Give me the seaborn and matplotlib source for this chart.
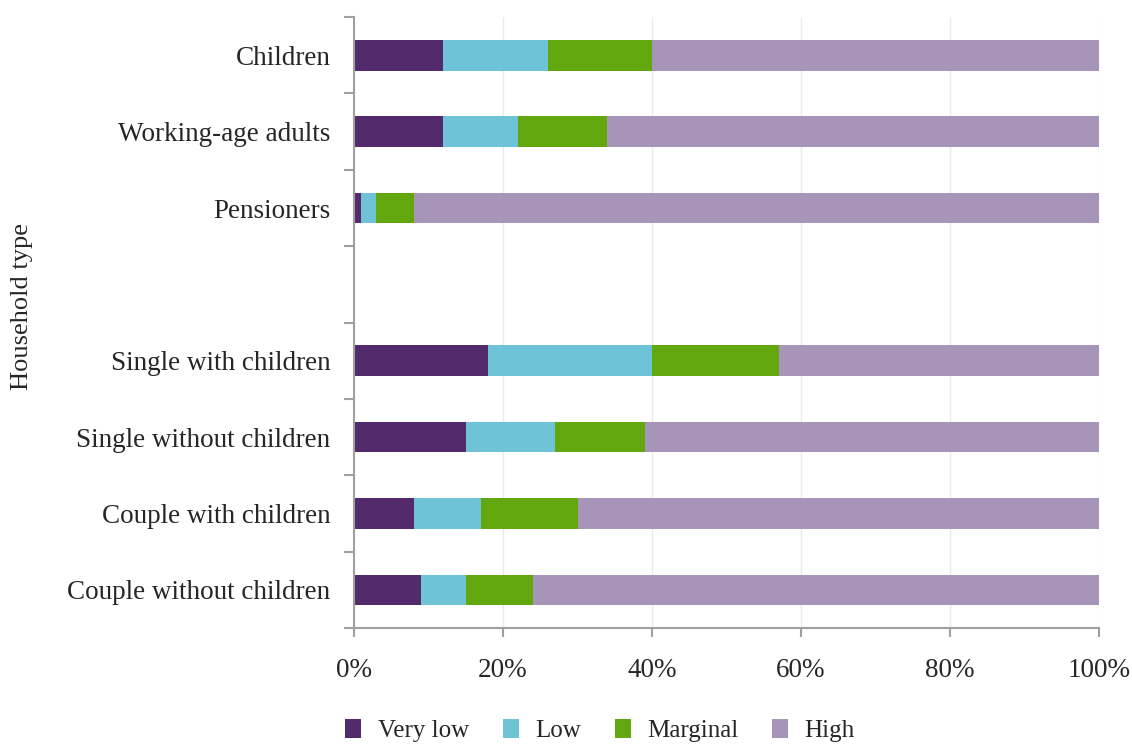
import numpy as np
import pandas as pd
import matplotlib
matplotlib.use("Agg")
import matplotlib.pyplot as plt
import seaborn as sns
from matplotlib.patches import Patch
from matplotlib.ticker import FixedLocator, PercentFormatter

# Household types (blank slot separates the two groups)
categories = ["Children", "Working-age adults", "Pensioners", " ",
              "Single with children", "Single without children",
              "Couple with children", "Couple without children"]
groups = ["Children", "Working-age adults", "Pensioners",
          "Single with children", "Single without children",
          "Couple with children", "Couple without children"]

# Food security shares (%)
very_low = [12, 12, 1, 18, 15, 8, 9]
low = [14, 10, 2, 22, 12, 9, 6]
marginal = [14, 12, 5, 17, 12, 13, 9]
high = [60, 66, 92, 43, 61, 70, 76]

levels = ["Very low", "Low", "Marginal", "High"]
colors = ["#532a6b", "#6ec4d6", "#63a70f", "#a695b8"]

df = pd.DataFrame({"group": groups, "Very low": very_low, "Low": low,
                   "Marginal": marginal, "High": high})
cum = df[levels].cumsum(axis=1)

sns.set_style("white")
plt.rcParams["font.family"] = ["Liberation Serif", "DejaVu Serif"]

fig, ax = plt.subplots(figsize=(11.32, 7.45), dpi=100)
fig.subplots_adjust(left=0.3127, right=0.9709, top=0.977, bottom=0.157)

# draw from the widest segment down so each stack is visible
for level, col in zip(levels[::-1], colors[::-1]):
    sns.barplot(x=cum[level], y=df["group"], order=categories, orient="h",
                color=col, width=0.4, saturation=1, linewidth=0, ax=ax)

ax.set_xlim(0, 100)
ax.set_ylim(7.5, -0.5)
ax.xaxis.set_major_locator(FixedLocator([0, 20, 40, 60, 80, 100]))
ax.xaxis.set_major_formatter(PercentFormatter(decimals=0))
ax.grid(axis="x", color="#ebebeb", linewidth=1)
ax.set_axisbelow(True)

# ticks on y sit between categories, labels without tick marks
ax.yaxis.set_minor_locator(FixedLocator(np.arange(-0.5, 8, 1)))
ax.tick_params(axis="y", which="major", left=False, length=0, pad=17,
               labelsize=19.5)
ax.tick_params(axis="y", which="minor", left=True, length=7.5, width=1.5,
               color="#a0a0a0")
ax.tick_params(axis="x", which="major", bottom=True, length=6.5, width=1.5,
               color="#a0a0a0", pad=15, labelsize=19.5)

sns.despine(ax=ax, top=True, right=True)
for s in ["left", "bottom"]:
    ax.spines[s].set_color("#a0a0a0")
    ax.spines[s].set_linewidth(1.5)

ax.set_xlabel("")
ax.set_ylabel("")
fig.text(0.0195, 1 - 307 / 745, "Household type", rotation=90,
         ha="center", va="center", fontsize=19)

handles = [Patch(facecolor=c, edgecolor="none") for c in colors]
fig.legend(handles, levels, loc="center", bbox_to_anchor=(0.530, 0.019),
           ncol=4, frameon=False, fontsize=18, handlelength=0.65,
           handleheight=0.75, handletextpad=0.65, columnspacing=1.35)

fig.savefig("out.png", dpi=100)
